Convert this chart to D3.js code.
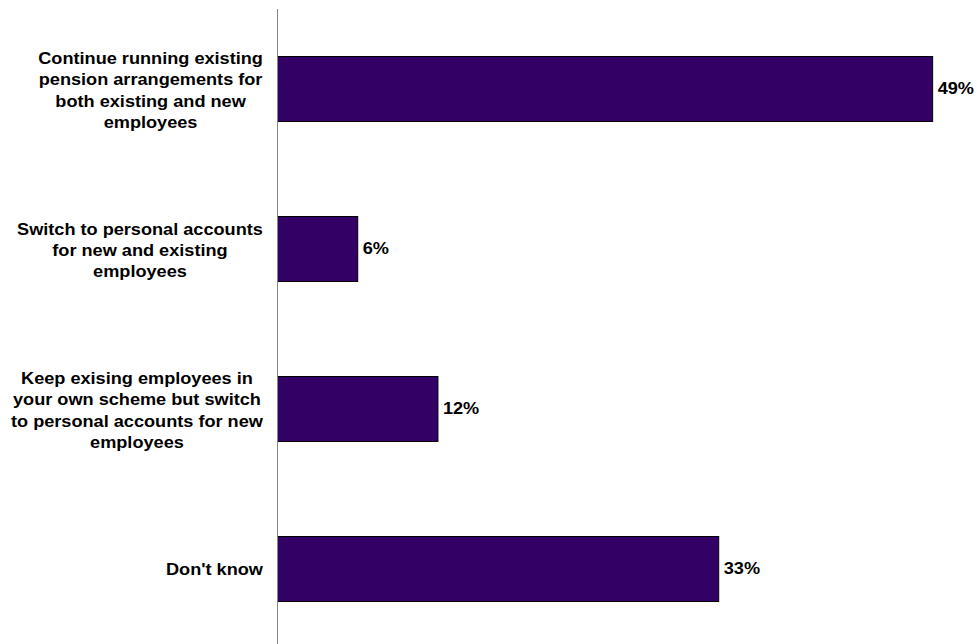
<!DOCTYPE html>
<html>
<head>
<meta charset="utf-8">
<script src="https://cdn.jsdelivr.net/npm/d3@7/dist/d3.min.js"></script>
<style>
  html, body { margin: 0; padding: 0; background: #fff; }
  svg { display: block; }
  text { font-family: "Liberation Sans", Arial, sans-serif; font-weight: bold; fill: #000; }
</style>
</head>
<body>
<svg id="chart" width="977" height="644"></svg>
<script>
// Survey answers, one entry per bar (each category split into its printed lines)
const categories = [
  ["Continue running existing", "pension arrangements for", "both existing and new", "employees"],
  ["Switch to personal accounts", "for new and existing", "employees"],
  ["Keep exising employees in", "your own scheme but switch", "to personal accounts for new", "employees"],
  ["Don't know"]
];
const values = [49, 6, 12, 33];   // percent of respondents
const valueLabels = ["49%", "6%", "12%", "33%"];

const svg = d3.select("#chart");
const W = 977, H = 644;
const axisX = 277.5;
const fontSize = 16.5;
const stretch = 1.1;
const lineGap = 21.4;

const ids = categories.map((_, i) => i);

const y = d3.scaleBand()
  .domain(ids)
  .range([9, 649])
  .paddingInner(0.594)
  .paddingOuter(0.297);

const x = d3.scaleLinear()
  .domain([0, 50])
  .range([axisX, 946]);

// Bars
svg.append("g")
  .selectAll("rect")
  .data(values)
  .join("rect")
  .attr("x", x(0))
  .attr("y", (d, i) => y(i))
  .attr("width", d => x(d) - x(0))
  .attr("height", y.bandwidth())
  .attr("fill", "#330066")
  .attr("stroke", "#000")
  .attr("stroke-width", 1);

// Vertical category axis line
svg.append("line")
  .attr("x1", axisX).attr("x2", axisX)
  .attr("y1", 9).attr("y2", H)
  .attr("stroke", "#868686")
  .attr("stroke-width", 1);

// Value labels at bar ends
svg.append("g")
  .selectAll("g")
  .data(values)
  .join("g")
  .attr("transform", (d, i) => `translate(${x(d) + 5},${y(i) + y.bandwidth() / 2}) scale(${stretch},1)`)
  .append("text")
  .attr("dy", "0.33em")
  .attr("font-size", fontSize)
  .text((d, i) => valueLabels[i]);

// Category labels: block right-aligned to the axis, lines centered within the block
const labelRight = 263;
categories.forEach((lines, i) => {
  const cy = y(i) + y.bandwidth() / 2 + (lines.length > 1 ? 1.2 : 0);
  const g = svg.append("g");
  const texts = lines.map((line, k) => {
    const lg = g.append("g");
    const t = lg.append("text")
      .attr("text-anchor", "middle")
      .attr("dy", "0.35em")
      .attr("font-size", fontSize)
      .text(line);
    return { lg, t, k };
  });
  const maxW = d3.max(texts, o => o.t.node().getComputedTextLength()) * stretch;
  const cx = labelRight - maxW / 2;
  const top = cy - (lines.length - 1) * lineGap / 2;
  texts.forEach(o => {
    o.lg.attr("transform", `translate(${cx},${top + o.k * lineGap}) scale(${stretch},1)`);
  });
});
</script>
</body>
</html>
